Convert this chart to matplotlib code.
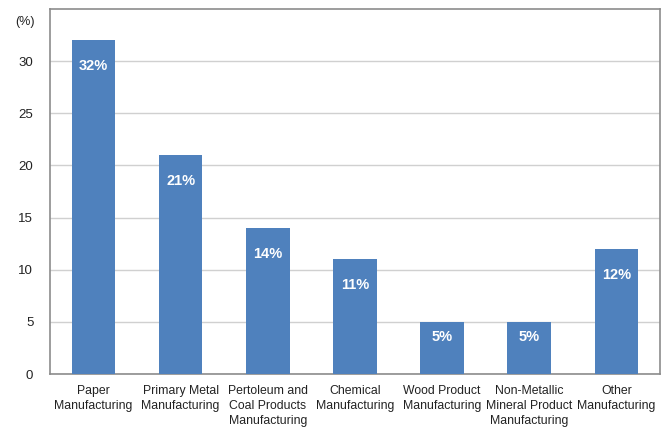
import matplotlib.pyplot as plt
import numpy as np

plt.rcParams['font.family'] = ['Liberation Sans', 'DejaVu Sans']

categories = ["Paper\nManufacturing", "Primary Metal\nManufacturing",
              "Pertoleum and\nCoal Products\nManufacturing", "Chemical\nManufacturing",
              "Wood Product\nManufacturing", "Non-Metallic\nMineral Product\nManufacturing",
              "Other\nManufacturing"]
values = [32, 21, 14, 11, 5, 5, 12]
yticks = [0, 5, 10, 15, 20, 25, 30]

fig = plt.figure(figsize=(6.66, 4.28), dpi=100)
ax = fig.add_axes([0.075, 0.126, 0.916, 0.853])

x = np.arange(len(values))
bars = ax.bar(x, values, width=0.5, color='#4f81bd', zorder=3)

for xi, v in zip(x, values):
    off = -18.5 if v > 6 else -11
    ax.annotate(f"{v}%", (xi, v), xytext=(0, off), textcoords='offset points',
                ha='center', va='center', color='white', fontsize=10.5, fontweight='bold')

ax.set_xlim(-0.5, len(values) - 0.5)
ax.set_ylim(0, 35)
ax.set_yticks(yticks)
ax.set_xticks(x)
ax.set_xticklabels(categories, fontsize=8.8, color='#222222', linespacing=1.35)
ax.tick_params(axis='y', length=0, labelsize=9.5, pad=12, colors='#222222')
ax.tick_params(axis='x', length=0, pad=8)
ax.grid(axis='y', color='#d0d0d0', linewidth=1, zorder=0)

for s in ax.spines.values():
    s.set_color('#8c8c8c')
    s.set_linewidth(1.2)

fig.text(25 / 666, 1 - 22 / 428, "(%)", fontsize=9, ha='center', va='center', color='#222222')

fig.savefig("out.png", dpi=100)
